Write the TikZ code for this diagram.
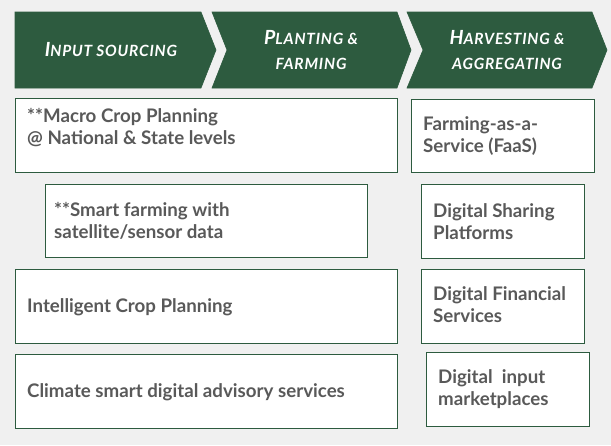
\documentclass[tikz,border=0pt]{standalone}
\usepackage{fontspec}
\setmainfont{Lato}
\newfontfamily\hdfont[LetterSpace=5]{Lato}
\definecolor{bggray}{HTML}{F0F0F0}
\definecolor{leafgreen}{HTML}{2D5B3F}
\definecolor{txtgray}{HTML}{595959}
\newcommand{\hdcap}[2]{{\fontsize{19.5}{19.5}\selectfont #1}#2}
\tikzset{
  chevron/.style={fill=leafgreen, draw=leafgreen, line width=0.6pt},
  hdtext/.style={text=white, align=center, inner sep=0pt,
    font=\hdfont\bfseries\itshape\fontsize{15.5}{25}\selectfont},
  cardbox/.style={draw=leafgreen, fill=white, line width=1.4pt, inner sep=0pt, anchor=north west},
  cardtext/.style={text=txtgray, align=left, anchor=west, inner sep=0pt,
    font=\bfseries\fontsize{18.7}{22}\selectfont}
}
\begin{document}
\begin{tikzpicture}[x=1pt,y=-1pt]
\useasboundingbox (0,0) rectangle (611,445);
\fill[bggray] (0,0) rectangle (611,445);
% header chevrons
\path[chevron] (15,12) -- (201,12) -- (216,50) -- (201,88) -- (15,88) -- cycle;
\path[chevron] (212,12) -- (397,12) -- (411,50) -- (397,88) -- (212,88) -- (227,50) -- cycle;
\path[chevron] (407,12) -- (592,12) -- (607,50) -- (592,88) -- (407,88) -- (423,50) -- cycle;
\node[hdtext] (h1) at (111,50) {\hdcap{I}{NPUT SOURCING}};
\node[hdtext] (h2) at (311,50) {\hdcap{P}{LANTING \&}\\FARMING};
\node[hdtext] (h3) at (507,50) {\hdcap{H}{ARVESTING \&}\\AGGREGATING};
% left boxes
\node[cardbox, minimum width=382pt, minimum height=74pt] (b1) at (15,98) {};
\node[cardtext] (t1) at (27,128) {**Macro Crop Planning\\@ National \& State levels};
\node[cardbox, minimum width=322pt, minimum height=73pt] (b2) at (45,184) {};
\node[cardtext] (t2) at (54,221) {**Smart farming with\\satellite/sensor data};
\node[cardbox, minimum width=382pt, minimum height=74pt] (b3) at (15,269) {};
\node[cardtext] (t3) at (27,307) {Intelligent Crop Planning};
\node[cardbox, minimum width=382pt, minimum height=74pt] (b4) at (15,354) {};
\node[cardtext] (t4) at (27,392) {Climate smart digital advisory services};
% right boxes
\node[cardbox, minimum width=183pt, minimum height=73pt] (r1) at (411,99) {};
\node[cardtext] (s1) at (423,136) {Farming-as-a-\\Service (FaaS)};
\node[cardbox, minimum width=163pt, minimum height=74pt] (r2) at (421,184) {};
\node[cardtext] (s2) at (433,222) {Digital Sharing\\Platforms};
\node[cardbox, minimum width=163pt, minimum height=74pt] (r3) at (421,269) {};
\node[cardtext] (s3) at (433,305) {Digital Financial\\Services};
\node[cardbox, minimum width=163pt, minimum height=74pt] (r4) at (426,352) {};
\node[cardtext] (s4) at (438,389) {Digital\ \ input\\marketplaces};
\end{tikzpicture}
\end{document}
